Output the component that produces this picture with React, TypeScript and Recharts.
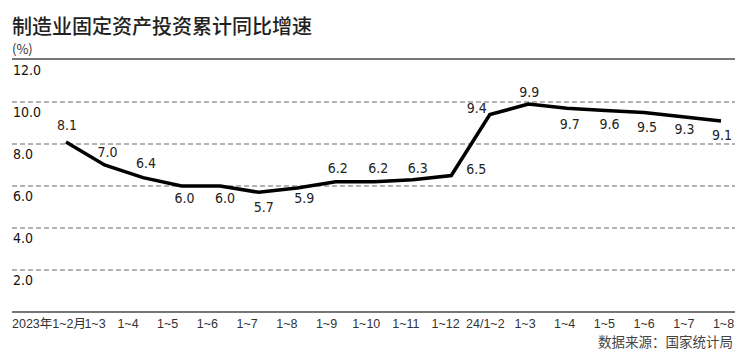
import React from "react";
import { LineChart, Line, XAxis, YAxis, ReferenceLine, LabelList } from "recharts";

// cumulative y/y growth of manufacturing fixed-asset investment (%)
const periods = [
  "2023年1~2月", "1~3", "1~4", "1~5", "1~6", "1~7", "1~8", "1~9", "1~10", "1~11", "1~12",
  "24/1~2", "1~3", "1~4", "1~5", "1~6", "1~7", "1~8",
];
const growth = [8.1, 7.0, 6.4, 6.0, 6.0, 5.7, 5.9, 6.2, 6.2, 6.3, 6.5, 9.4, 9.9, 9.7, 9.6, 9.5, 9.3, 9.1];
const yTicks = [0, 2, 4, 6, 8, 10, 12];

const data = periods.map((period, i) => ({ period, value: growth[i] }));

// where each value label sits relative to its point [dx, dy]
const labelShift = [
  [1, -17], [3, -13], [3, -15], [3, 12], [5, 12], [5, 15], [7, 10], [2, -14], [4, -14],
  [5, -12], [25, -7], [-13, -7], [1, -12], [3, 16], [4, 14], [3, 14], [2, 12], [1, 14],
];

const numFont = "'DejaVu Sans Condensed', 'DejaVu Sans', sans-serif";
const cjkFont = "'Noto Sans CJK SC', 'Noto Sans', sans-serif";
const tickFont = "'Liberation Sans', 'Noto Sans CJK SC', sans-serif";

const XTick = (props: any) => {
  const { x, payload, index } = props;
  let px = x;
  let anchor = "middle";
  if (index === 0) {
    px = 12;
    anchor = "start";
  } else if (index === 1) {
    px = x - 9.5;
  } else {
    px = x + 2.5 - (17 - index) * 1.17;
  }
  return (
    <text x={px} y={328} textAnchor={anchor} fill="#333" fontSize={12.5} fontFamily={tickFont}>
      {payload.value}
    </text>
  );
};

const YLabel = (value: number) => (props: any) => {
  const vb = props.viewBox || {};
  return (
    <text x={13} y={vb.y + 10} dominantBaseline="central" fill="#111" fontSize={14} fontFamily={numFont}>
      {value.toFixed(1)}
    </text>
  );
};

const ValueLabel = (props: any) => {
  const { x, y, value, index } = props;
  const [dx, dy] = labelShift[index] || [0, -12];
  return (
    <text
      x={x + dx}
      y={y + dy}
      textAnchor="middle"
      dominantBaseline="central"
      fill="#222"
      fontSize={14}
      fontFamily={numFont}
    >
      {Number(value).toFixed(1)}
    </text>
  );
};

export default function App() {
  return (
    <div style={{ position: "absolute", left: 0, top: 0, width: 752, height: 363, background: "#fff" }}>
      <div
        style={{
          position: "absolute", left: 12, top: 16, fontSize: 20, lineHeight: "20px",
          fontFamily: cjkFont, color: "#222", fontWeight: 500,
        }}
      >
        制造业固定资产投资累计同比增速
      </div>
      <div
        style={{
          position: "absolute", left: 598, top: 334, fontSize: 13.5, lineHeight: "14px",
          fontFamily: cjkFont, color: "#444",
        }}
      >
        数据来源：国家统计局
      </div>
      <LineChart width={752} height={363} data={data} margin={{ top: 60, right: 17, bottom: 21, left: 12 }}>
        <XAxis
          dataKey="period"
          height={30}
          padding={{ left: 54, right: 14 }}
          axisLine={{ stroke: "#777", strokeWidth: 2 }}
          tickLine={false}
          tick={<XTick />}
          interval={0}
        />
        <YAxis domain={[0, 12]} ticks={yTicks} hide />
        {yTicks.filter((t) => t > 0).map((t) => (
          <ReferenceLine
            key={t}
            y={t}
            ifOverflow="visible"
            stroke={t === 12 ? "none" : "#666"}
            strokeWidth={1.2}
            strokeDasharray="5 3"
            label={YLabel(t)}
          />
        ))}
        <Line
          type="linear"
          dataKey="value"
          stroke="#000"
          strokeWidth={3.5}
          dot={false}
          isAnimationActive={false}
        >
          <LabelList dataKey="value" content={<ValueLabel />} />
        </Line>
      </LineChart>
      {/* unit label with the solid rule along the top of the plot */}
      <div
        style={{
          position: "absolute", left: 12, top: 42, width: 723, height: 16,
          borderBottom: "2px solid #777", fontSize: 13, lineHeight: "13px",
          fontFamily: cjkFont, color: "#333",
        }}
      >
        (%)
      </div>
    </div>
  );
}
